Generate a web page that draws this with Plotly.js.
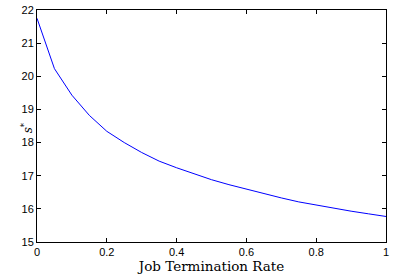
<!DOCTYPE html>
<html>
<head>
<meta charset="utf-8">
<script src="https://cdn.plot.ly/plotly-3.0.1.min.js"></script>
<style>html,body{margin:0;padding:0;background:#fff}#chart{width:415px;height:277px}</style>
</head>
<body>
<div id="chart"></div>
<script>
const rates = [0, 0.05, 0.1, 0.15, 0.2, 0.25, 0.3, 0.35, 0.4, 0.45, 0.5, 0.55, 0.6, 0.65, 0.7, 0.75, 0.8, 0.85, 0.9, 0.95, 1.0];
const sStar = [21.75, 20.23, 19.43, 18.82, 18.34, 18.0, 17.70, 17.44, 17.24, 17.05, 16.88, 16.73, 16.59, 16.46, 16.33, 16.21, 16.11, 16.01, 15.93, 15.85, 15.77];
const xTicks = [0, 0.2, 0.4, 0.6, 0.8, 1];
const xTickText = ['0', '0.2', '0.4', '0.6', '0.8', '1'];
const yTicks = [15, 16, 17, 18, 19, 20, 21, 22];
const xTitle = 'Job Termination Rate';
const yTitle = '<i>s</i><sup>*</sup>';

const trace = {
  x: rates, y: sStar, type: 'scatter', mode: 'lines',
  line: {color: '#0000ff', width: 1}, hoverinfo: 'skip'
};
const axisCommon = {
  showgrid: false, zeroline: false, showline: true, linecolor: '#000', linewidth: 1,
  mirror: 'ticks', ticks: 'inside', ticklen: 4, tickcolor: '#000', tickwidth: 1,
  tickfont: {family: 'Liberation Sans, Arial, sans-serif', size: 11, color: '#000'}
};
const layout = {
  width: 415, height: 277,
  margin: {l: 37, r: 29, t: 10, b: 35},
  paper_bgcolor: '#fff', plot_bgcolor: '#fff', showlegend: false,
  xaxis: Object.assign({}, axisCommon, {
    range: [0, 1], tickvals: xTicks, ticktext: xTickText,
    title: {text: xTitle, font: {family: 'DejaVu Serif, serif', size: 13.5, color: '#000'}, standoff: 4}
  }),
  yaxis: Object.assign({}, axisCommon, {
    range: [15, 22], tickvals: yTicks
  }),
  annotations: [{
    text: yTitle, xref: 'paper', yref: 'paper', x: 0, y: 0.49, xanchor: 'center', yanchor: 'middle',
    xshift: -10, textangle: -90, showarrow: false,
    font: {family: 'DejaVu Serif, serif', size: 12, color: '#000'}
  }]
};
Plotly.newPlot('chart', [trace], layout, {displayModeBar: false, staticPlot: true});
</script>
</body>
</html>
